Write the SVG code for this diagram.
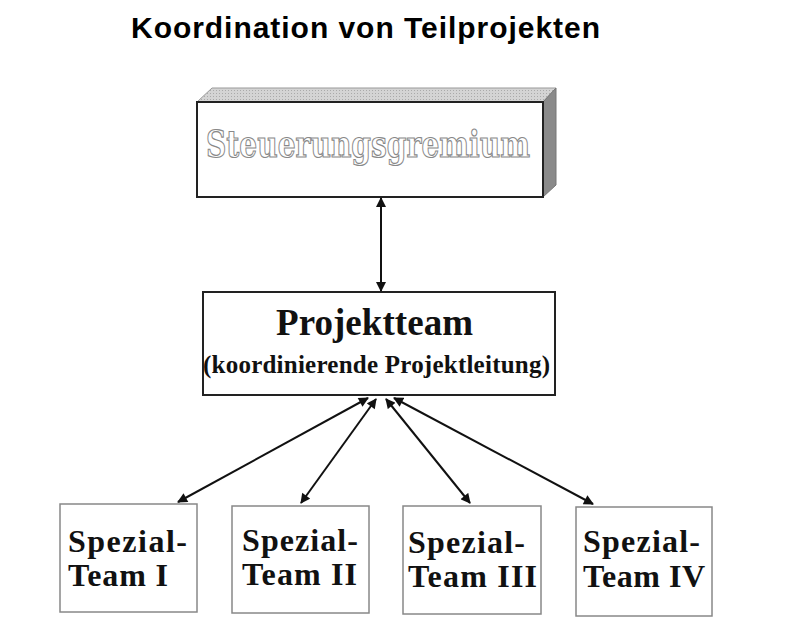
<svg xmlns="http://www.w3.org/2000/svg" width="785" height="637" viewBox="0 0 785 637">
<style>
.box{fill:#fff;stroke:#222;stroke-width:2}
.sbox{fill:#fff;stroke:#888;stroke-width:1.5}
.serif{font-family:"Liberation Serif","Times New Roman",serif;font-weight:bold;fill:#111}
.con{stroke:#111;stroke-width:2;fill:none;marker-start:url(#ah);marker-end:url(#ah)}
</style>
<defs>
<marker id="ah" viewBox="0 0 10 10" refX="9" refY="5" markerWidth="5.5" markerHeight="5" orient="auto-start-reverse" markerUnits="strokeWidth">
<path d="M0,0 L10,5 L0,10 z" fill="#111"/>
</marker>
<pattern id="dots" width="3" height="3" patternUnits="userSpaceOnUse">
<rect width="3" height="3" fill="#d4d4d4"/>
<rect width="1" height="1" fill="#aaa"/>
</pattern>
</defs>
<rect width="785" height="637" fill="#fff"/>
<text x="131" y="38" font-family="Liberation Sans,Arial,sans-serif" font-weight="bold" font-size="30" textLength="469" fill="#000">Koordination von Teilprojekten</text>
<g id="steuerungsgremium">
<polygon points="197,102 212,88 556,88 543,102" fill="url(#dots)" stroke="#999" stroke-width="1"/>
<polygon points="543,102 556,88 556,185 543,197" fill="#8a8a8a" stroke="#777" stroke-width="1"/>
<rect x="197" y="102" width="346" height="95" class="box"/>
<text x="206" y="157" font-family="DejaVu Serif,Liberation Serif,serif" font-weight="bold" font-size="37" textLength="324" lengthAdjust="spacingAndGlyphs" fill="#fff" stroke="#888" stroke-width="1.2">Steuerungsgremium</text>
</g>
<g id="projektteam">
<rect x="203" y="292" width="352" height="103" class="box"/>
<text x="276" y="335" class="serif" font-size="37" textLength="197">Projektteam</text>
<text x="203" y="373" class="serif" font-size="25" textLength="347">(koordinierende Projektleitung)</text>
</g>
<g id="team1">
<rect x="60" y="504" width="137" height="108" class="sbox"/>
<text x="68" y="552" class="serif" font-size="32" textLength="119">Spezial-</text>
<text x="68" y="586" class="serif" font-size="32" textLength="100">Team I</text>
</g>
<g id="team2">
<rect x="232" y="506" width="137" height="107" class="sbox"/>
<text x="242" y="551" class="serif" font-size="32" textLength="116">Spezial-</text>
<text x="242" y="585" class="serif" font-size="32" textLength="115">Team II</text>
</g>
<g id="team3">
<rect x="403" y="506" width="138" height="108" class="sbox"/>
<text x="408" y="553" class="serif" font-size="32" textLength="117">Spezial-</text>
<text x="408" y="587" class="serif" font-size="32" textLength="129">Team III</text>
</g>
<g id="team4">
<rect x="576" y="507" width="136" height="109" class="sbox"/>
<text x="583" y="552" class="serif" font-size="32" textLength="117">Spezial-</text>
<text x="583" y="587" class="serif" font-size="32" textLength="122">Team IV</text>
</g>
<g id="connectors">
<line x1="381" y1="198" x2="381" y2="291" class="con"/>
<line x1="368" y1="398" x2="178" y2="502" class="con"/>
<line x1="376" y1="399" x2="301" y2="503" class="con"/>
<line x1="386" y1="399" x2="470" y2="503" class="con"/>
<line x1="394" y1="398" x2="593" y2="504" class="con"/>
</g>
</svg>
